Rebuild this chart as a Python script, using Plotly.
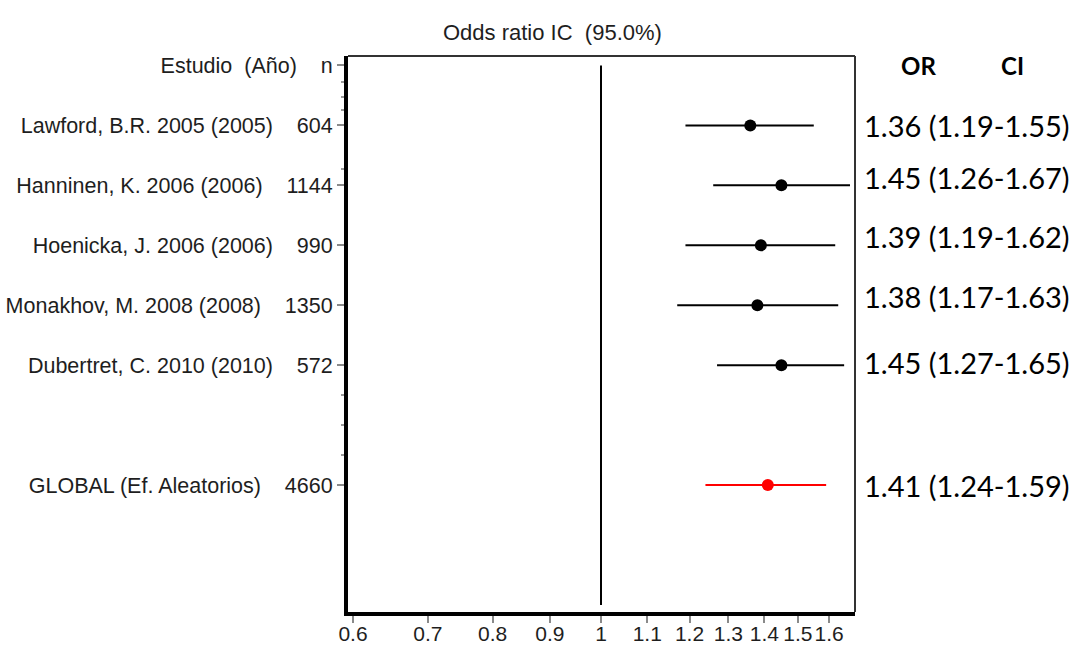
import plotly.graph_objects as go

# Studies in the meta-analysis
studies = [
    "Lawford, B.R. 2005 (2005)",
    "Hanninen, K. 2006 (2006)",
    "Hoenicka, J. 2006 (2006)",
    "Monakhov, M. 2008 (2008)",
    "Dubertret, C. 2010 (2010)",
]
n_study = [604, 1144, 990, 1350, 572]
or_study = [1.36, 1.45, 1.39, 1.38, 1.45]
lo_study = [1.19, 1.26, 1.19, 1.17, 1.27]
hi_study = [1.55, 1.67, 1.62, 1.63, 1.65]

# Pooled estimate (random effects)
global_label = "GLOBAL (Ef. Aleatorios)"
n_global = 4660
or_global = 1.41
lo_global = 1.24
hi_global = 1.59

x_ticks = [0.6, 0.7, 0.8, 0.9, 1, 1.1, 1.2, 1.3, 1.4, 1.5, 1.6]
x_tick_text = ["0.6", "0.7", "0.8", "0.9", "1", "1.1", "1.2", "1.3", "1.4", "1.5", "1.6"]

# Row positions (0 = header row)
study_rows = [1, 2, 3, 4, 5]
global_row = 7
null_line_end = 9
minor_rows = [0.28, 0.52, 0.75, 1.72, 5.5, 6.0, 6.5]
# Vertical nudges (px) of the OR/CI column texts
text_shift = [0, 8, 9, 9, 3, 0]

NB = "\u00a0"
LEFT_FONT = "Liberation Sans, Arial, sans-serif"
RIGHT_FONT = "Lato, Calibri, sans-serif"
INK = "#1e1e1e"

fig = go.Figure()

fig.add_trace(go.Scatter(
    x=or_study, y=study_rows, mode="markers",
    marker=dict(symbol="circle", size=12, color="black"),
    error_x=dict(type="data", symmetric=False,
                 array=[h - o for h, o in zip(hi_study, or_study)],
                 arrayminus=[o - l for o, l in zip(or_study, lo_study)],
                 color="black", thickness=2, width=0),
    showlegend=False, hoverinfo="skip",
))

fig.add_trace(go.Scatter(
    x=[or_global], y=[global_row], mode="markers",
    marker=dict(symbol="circle", size=12, color="#ff0000"),
    error_x=dict(type="data", symmetric=False,
                 array=[hi_global - or_global],
                 arrayminus=[or_global - lo_global],
                 color="#ff0000", thickness=2, width=0),
    showlegend=False, hoverinfo="skip",
))

# Line of no effect at OR = 1
fig.add_trace(go.Scatter(
    x=[1, 1], y=[0, null_line_end], mode="lines",
    line=dict(color="black", width=2),
    showlegend=False, hoverinfo="skip",
))

y_vals = [0] + study_rows + [global_row]
y_text = ["Estudio" + NB * 2 + "(Año)" + NB * 4 + "n"]
y_text += [s + NB * 4 + str(n) for s, n in zip(studies, n_study)]
y_text += [global_label + NB * 4 + str(n_global)]

fig.update_layout(
    width=1074, height=650,
    margin=dict(l=348, r=219, t=56, b=38),
    paper_bgcolor="white", plot_bgcolor="white",
    font=dict(family=LEFT_FONT, color=INK, size=21),
    xaxis=dict(
        type="log", range=[-0.2263, 0.2272], automargin=False,
        tickmode="array", tickvals=x_ticks, ticktext=x_tick_text,
        tickangle=0, ticks="outside", ticklen=7, tickwidth=2, tickcolor="#8a8a8a",
        ticklabelstandoff=-7,
        tickfont=dict(size=21, family=LEFT_FONT, color=INK),
        showline=True, linewidth=4, linecolor="black", mirror=False,
        showgrid=False, zeroline=False,
    ),
    yaxis=dict(
        range=[9.117, -0.158], automargin=False,
        tickmode="array", tickvals=y_vals, ticktext=y_text,
        ticks="outside", ticklen=7, tickwidth=2, tickcolor="#8a8a8a",
        ticklabelstandoff=0,
        tickfont=dict(size=21.5, family=LEFT_FONT, color=INK),
        minor=dict(tickmode="array", tickvals=minor_rows, ticks="outside",
                   ticklen=3, tickwidth=2, tickcolor="#9a9a9a", showgrid=False),
        showline=True, linewidth=4, linecolor="black", mirror=False,
        showgrid=False, zeroline=False,
    ),
    shapes=[
        dict(type="line", xref="paper", yref="paper", x0=0, x1=1, y0=1, y1=1,
             line=dict(color="#333333", width=2)),
        dict(type="line", xref="paper", yref="paper", x0=1, x1=1, y0=0, y1=1,
             line=dict(color="#333333", width=2)),
    ],
)

annotations = [
    dict(text="Odds" + NB + "ratio" + NB + "IC" + NB * 2 + "(95.0%)",
         xref="paper", yref="paper", x=0.404, y=1.0414,
         xanchor="center", yanchor="middle", showarrow=False,
         font=dict(family=LEFT_FONT, size=22, color=INK)),
    dict(text="<b>OR</b>", xref="paper", yref="y", x=1.1243, y=0,
         xanchor="center", yanchor="middle", showarrow=False,
         font=dict(family=RIGHT_FONT, size=24, color="black")),
    dict(text="<b>CI</b>", xref="paper", yref="y", x=1.3116, y=0,
         xanchor="center", yanchor="middle", showarrow=False,
         font=dict(family=RIGHT_FONT, size=24, color="black")),
]

all_or = or_study + [or_global]
all_lo = lo_study + [lo_global]
all_hi = hi_study + [hi_global]
all_rows = study_rows + [global_row]
for o, l, h, r, dy in zip(all_or, all_lo, all_hi, all_rows, text_shift):
    annotations.append(dict(
        text=f"{o:.2f} ({l:.2f}-{h:.2f})",
        xref="paper", yref="y", x=1.0138, y=r, yshift=dy,
        xanchor="left", yanchor="middle", showarrow=False,
        font=dict(family=RIGHT_FONT, size=29, color="black"),
    ))

fig.update_layout(annotations=annotations)

fig.write_html("out.html")
